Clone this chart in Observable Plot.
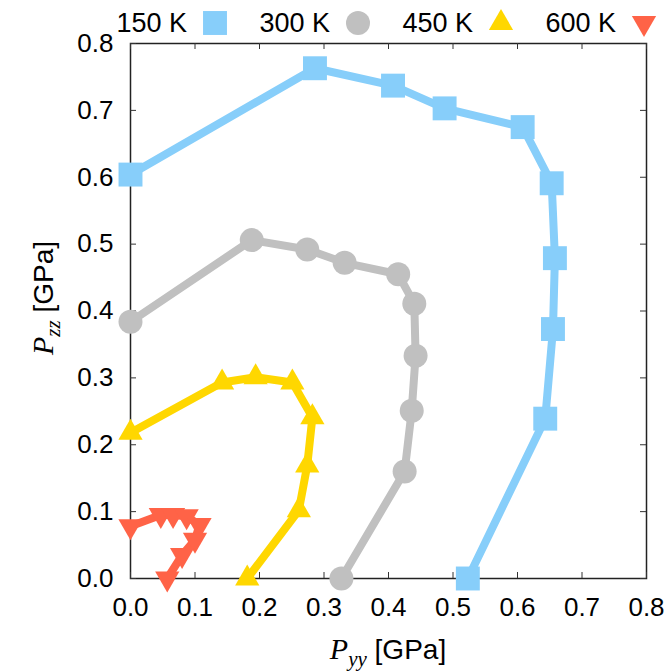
<!DOCTYPE html>
<html><head><meta charset="utf-8">
<script src="https://cdn.jsdelivr.net/npm/d3@7"></script>
<script src="https://cdn.jsdelivr.net/npm/@observablehq/plot@0.6"></script>
<style>body{margin:0;background:#fff;}</style>
</head><body><div id="chart"></div>
<script>
// ---- data ----
const seriesNames = ["150 K", "300 K", "450 K", "600 K"];
const seriesColors = ["#87CEFA", "#C0C0C0", "#FFD700", "#FF6347"];
const pyy150 = [0.000, 0.286, 0.407, 0.487, 0.608, 0.653, 0.658, 0.655, 0.643, 0.523];
const pzz150 = [0.604, 0.763, 0.737, 0.703, 0.675, 0.591, 0.479, 0.373, 0.239, 0.000];
const pyy300 = [0.000, 0.188, 0.274, 0.332, 0.415, 0.440, 0.442, 0.436, 0.425, 0.327];
const pzz300 = [0.384, 0.506, 0.492, 0.472, 0.455, 0.411, 0.333, 0.251, 0.160, 0.000];
const pyy450 = [0.000, 0.142, 0.194, 0.251, 0.282, 0.274, 0.261, 0.181];
const pzz450 = [0.218, 0.293, 0.301, 0.293, 0.241, 0.169, 0.102, 0.000];
const pyy600 = [0.000, 0.047, 0.066, 0.087, 0.107, 0.100, 0.080, 0.057];
const pzz600 = [0.078, 0.095, 0.095, 0.093, 0.080, 0.058, 0.035, 0.000];
const xTicks = [0, 0.1, 0.2, 0.3, 0.4, 0.5, 0.6, 0.7, 0.8];
const yTicks = [0, 0.1, 0.2, 0.3, 0.4, 0.5, 0.6, 0.7, 0.8];

// ---- build ----
const toRows = (xs, ys) => xs.map((x, i) => ({x, y: ys[i]}));
const seriesData = [toRows(pyy150, pzz150), toRows(pyy300, pzz300), toRows(pyy450, pzz450), toRows(pyy600, pzz600)];

const triDown = {
  draw(ctx, size) {
    const y = -Math.sqrt(size / (3 * Math.sqrt(3)));
    ctx.moveTo(0, -2 * y);
    ctx.lineTo(-Math.sqrt(3) * y, y);
    ctx.lineTo(Math.sqrt(3) * y, y);
    ctx.closePath();
  }
};
const symbols = [d3.symbolSquare, d3.symbolCircle, d3.symbolTriangle, triDown];
const radii = [13.5, 12, 9, 9];

const W = 667, H = 671, ML = 130, MR = 21, MT = 43, MB = 93;
const innerW = W - ML - MR, innerH = H - MT - MB;
const TICK = 6;
const sans = "'Liberation Sans', Arial, Helvetica, sans-serif";
const serif = "'Liberation Serif', 'Times New Roman', serif";
const fmt = d3.format(".1f");

const marks = [
  Plot.frame({stroke: "#222", strokeWidth: 1.5}),
  Plot.tickX(xTicks, {x: d => d, insetTop: innerH - TICK, stroke: "#333"}),
  Plot.tickX(xTicks, {x: d => d, insetBottom: innerH - TICK, stroke: "#333"}),
  Plot.tickY(yTicks, {y: d => d, insetRight: innerW - TICK, stroke: "#333"}),
  Plot.tickY(yTicks, {y: d => d, insetLeft: innerW - TICK, stroke: "#333"}),
  Plot.axisX(xTicks, {anchor: "bottom", tickSize: 0, tickPadding: 19, tickFormat: fmt, fontSize: 26, label: null}),
  Plot.axisY(yTicks, {anchor: "left", tickSize: 0, tickPadding: 17, tickFormat: fmt, fontSize: 26, label: null})
];
seriesData.forEach((rows, i) => {
  marks.push(Plot.line(rows, {x: "x", y: "y", stroke: seriesColors[i], strokeWidth: 8, strokeLinejoin: "round", strokeLinecap: "round"}));
  marks.push(Plot.dot(rows, {x: "x", y: "y", symbol: symbols[i], r: radii[i], fill: seriesColors[i], stroke: "none"}));
});

const chart = Plot.plot({
  width: W, height: H,
  marginLeft: ML, marginRight: MR, marginTop: MT, marginBottom: MB,
  x: {domain: [0, 0.8]},
  y: {domain: [0, 0.8]},
  style: {fontFamily: sans, fontSize: "26px", color: "#000", background: "#fff"},
  marks
});
document.getElementById("chart").appendChild(chart);

const svg = d3.select(chart);
// legend
const lg = svg.append("g").attr("font-family", sans).attr("font-size", 27).attr("fill", "#000");
seriesNames.forEach((name, i) => {
  const xr = 187 + i * 143;
  lg.append("text").attr("x", xr).attr("y", 23).attr("text-anchor", "end").attr("dy", "0.35em").text(name);
  lg.append("path").attr("transform", `translate(${xr + 28},23)`)
    .attr("d", d3.symbol(symbols[i], Math.PI * radii[i] * radii[i])())
    .attr("fill", seriesColors[i]);
});
// axis titles
function title(g, sub) {
  const t = g.append("text").attr("text-anchor", "middle").attr("fill", "#000");
  t.append("tspan").attr("font-family", serif).attr("font-style", "italic").attr("font-size", 30).text("P");
  t.append("tspan").attr("font-family", serif).attr("font-style", "italic").attr("font-size", 21).attr("dy", 7).text(sub);
  t.append("tspan").attr("font-family", sans).attr("font-size", 28).attr("dy", -7).text(" [GPa]");
}
title(svg.append("g").attr("transform", `translate(${ML + innerW / 2},659)`), "yy");
title(svg.append("g").attr("transform", `translate(53,298) rotate(-90)`), "zz");
</script>
</body></html>
